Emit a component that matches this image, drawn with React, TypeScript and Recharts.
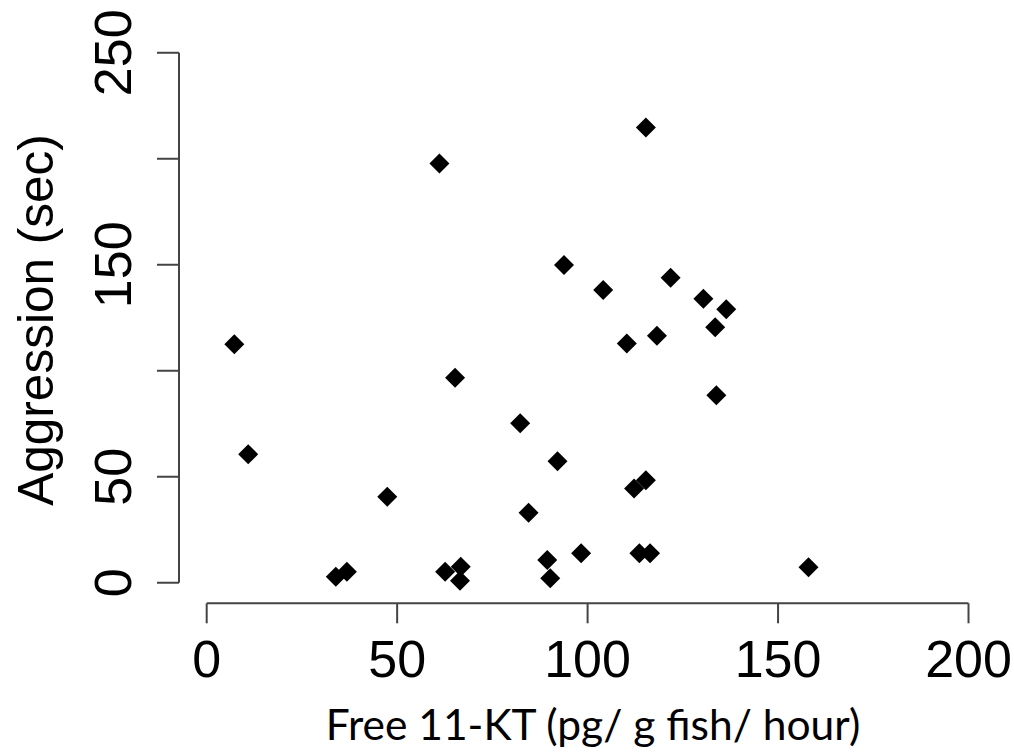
import { ScatterChart, Scatter, XAxis, YAxis, ReferenceLine } from "recharts";

// free 11-KT (pg/ g fish/ hour)
const kt = [
  7.25, 10.9, 33.9, 36.8, 47.4, 61.1, 62.6, 65.2, 66.7, 66.5, 82.3, 84.5, 89.4, 90.2, 92.1, 93.8,
  98.3, 104.1, 110.3, 112.2, 113.6, 115.3, 115.3, 116.4, 118.2, 121.8, 130.4, 133.5, 133.8, 136.4, 158.0,
];
// aggression (sec)
const aggression = [
  112.5, 60.6, 2.8, 5.2, 40.6, 197.8, 5.2, 96.7, 7.5, 0.9, 75.2, 33.0, 10.7, 2.1, 57.3, 149.9,
  13.9, 138.1, 112.9, 44.5, 13.9, 48.4, 214.8, 13.9, 116.5, 143.9, 134.0, 120.5, 88.5, 129.0, 7.3,
];

const xTicks = [0, 50, 100, 150, 200];
const yTicks = [0, 50, 100, 150, 200, 250];
const yLabelled = [0, 50, 150, 250];

// R pads the axis range, the axes sit on the edge of that padded box
const X_DOMAIN = [-7.27, 207.27];
const Y_DOMAIN = [-9.7, 259.7];

const points = kt.map((x, i) => ({ x, y: aggression[i] }));

const AXIS = "#444";
const SANS = "'Liberation Sans', Arial, sans-serif";

function Diamond(props: any) {
  const { cx, cy } = props;
  const r = 10;
  return <polygon points={`${cx},${cy - r} ${cx + r},${cy} ${cx},${cy + r} ${cx - r},${cy}`} fill="#000" />;
}

function XTick(props: any) {
  const { x, y, payload } = props;
  return (
    <text x={x} y={y + 52} textAnchor="middle" fontSize={52} fontFamily={SANS} fill="#000">
      {payload.value}
    </text>
  );
}

function YTick(props: any) {
  const { x, y, payload } = props;
  if (!yLabelled.includes(payload.value)) return null;
  return (
    <text
      transform={`translate(${x - 43},${y}) rotate(-90)`}
      textAnchor="middle"
      dy="0.36em"
      fontSize={52}
      fontFamily={SANS}
      fill="#000"
    >
      {payload.value}
    </text>
  );
}

export default function App() {
  return (
    <div style={{ position: "absolute", left: 0, top: 0, width: 1014, height: 752, background: "#fff" }}>
      <ScatterChart width={1014} height={752} margin={{ top: 32.2, right: 17.8, bottom: 48.7, left: 79 }}>
        <XAxis
          type="number"
          dataKey="x"
          domain={X_DOMAIN}
          ticks={xTicks}
          allowDataOverflow
          axisLine={false}
          tickSize={20}
          tickLine={{ stroke: AXIS, strokeWidth: 2 }}
          tick={<XTick />}
          height={100}
          label={{
            content: () => (
              <text x={593} y={740} textAnchor="middle" fontSize={42.5} fontFamily="Lato, 'Open Sans', sans-serif" fill="#000">
                Free 11-KT (pg/ g fish/ hour)
              </text>
            ),
          }}
        />
        <YAxis
          type="number"
          dataKey="y"
          domain={Y_DOMAIN}
          ticks={yTicks}
          allowDataOverflow
          axisLine={false}
          tickSize={22}
          tickLine={{ stroke: AXIS, strokeWidth: 2 }}
          tick={<YTick />}
          width={100}
          label={{
            content: () => (
              <text
                transform="translate(35,320) rotate(-90)"
                textAnchor="middle"
                dy="0.36em"
                fontSize={49.5}
                fontFamily={SANS}
                fill="#000"
              >
                Aggression (sec)
              </text>
            ),
          }}
        />
        <ReferenceLine
          segment={[
            { x: 0, y: Y_DOMAIN[0] },
            { x: 200, y: Y_DOMAIN[0] },
          ]}
          stroke={AXIS}
          strokeWidth={2}
          ifOverflow="visible"
        />
        <ReferenceLine
          segment={[
            { x: X_DOMAIN[0], y: 0 },
            { x: X_DOMAIN[0], y: 250 },
          ]}
          stroke={AXIS}
          strokeWidth={2}
          ifOverflow="visible"
        />
        <Scatter data={points} shape={<Diamond />} isAnimationActive={false} />
      </ScatterChart>
    </div>
  );
}
